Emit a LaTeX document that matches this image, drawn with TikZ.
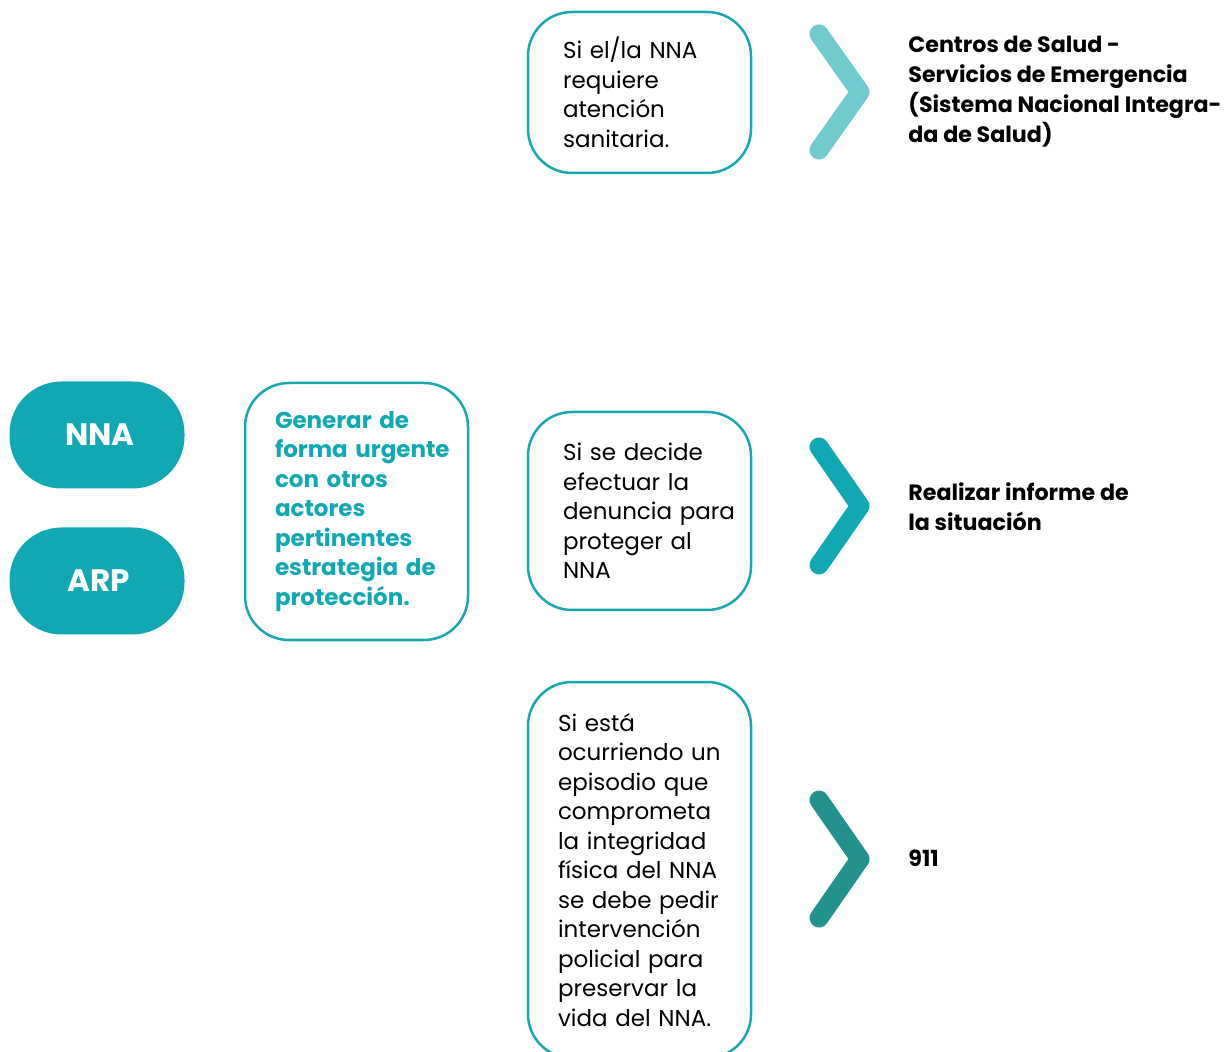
\documentclass[tikz,border=0pt]{standalone}
\usepackage{fontspec}
\setmainfont{Poppins}
\definecolor{tealmid}{HTML}{10A9B3}
\definecolor{teallight}{HTML}{6FCBCF}
\definecolor{tealdark}{HTML}{229290}
\definecolor{boxline}{HTML}{17A7B0}

\begin{document}
\begin{tikzpicture}
[
	x=0.5pt,y=-0.5pt,
	box/.style={rectangle,draw=boxline,line width=1.25pt,rounded corners=22pt,text width=111.5pt,inner xsep=0pt,align=left,font=\fontsize{11.5}{14.75}\selectfont},
	inset/.style={execute at begin node={\leftskip=#1}},
	pill/.style={rectangle,fill=tealmid,rounded corners=26pt,minimum width=87.5pt,minimum height=53.5pt,text=white,font=\bfseries\fontsize{15.5}{17}\selectfont},
	dest/.style={anchor=west,inner sep=0pt,align=left,font=\bfseries\fontsize{11.1}{15}\selectfont},
	chev/.style={line width=9.5pt,line cap=round,line join=round}
]

\useasboundingbox (0,0) rectangle (1225,1052);
\clip (0,0) rectangle (1225,1052);

\node[pill] (nna) at (97,435) {\hspace{3pt}NNA};
\node[pill] (arp) at (97,581) {\hspace{1.5pt}ARP};

\node[box,inset=15pt,minimum height=128.5pt,text=tealmid,font=\bfseries\fontsize{11.5}{14.75}\selectfont] (gen) at (356.5,511.5)
	{Generar de\\forma urgente\\con otros\\actores\\pertinentes\\estrategia de\\protección.};

\node[box,inset=17.5pt,minimum height=80.5pt] (salud) at (639.5,92.5)
	{Si el/la NNA\\requiere\\atención\\sanitaria.};
\node[box,inset=17.5pt,minimum height=99pt] (denuncia) at (639.5,511)
	{Si se decide\\efectuar la\\denuncia para\\proteger al\\NNA};
\node[box,inset=15pt,minimum height=188pt] (episodio) at (639.5,870)
	{Si está\\ocurriendo un\\episodio que\\comprometa\\la integridad\\física del NNA\\se debe pedir\\intervención\\policial para\\preservar la\\vida del NNA.};

\node[dest] (centros) at (908,92) {Centros de Salud -\\Servicios de Emergencia\\(Sistema Nacional Integra-\\da de Salud)};
\node[dest] (informe) at (908,507) {Realizar informe de\\la situación};
\node[dest] (tel) at (908,858) {911};

% chevrons
\coordinate (a1) at (819,34);  \coordinate (b1) at (860,92);  \coordinate (c1) at (819,150);
\coordinate (a2) at (819,447); \coordinate (b2) at (860,506); \coordinate (c2) at (819,565);
\coordinate (a3) at (819,800); \coordinate (b3) at (860,859); \coordinate (c3) at (819,918);

\draw[chev,teallight] (a1) -- (b1) -- (c1);
\draw[chev,tealmid] (a2) -- (b2) -- (c2);
\draw[chev,tealdark] (a3) -- (b3) -- (c3);

\end{tikzpicture}
\end{document}
